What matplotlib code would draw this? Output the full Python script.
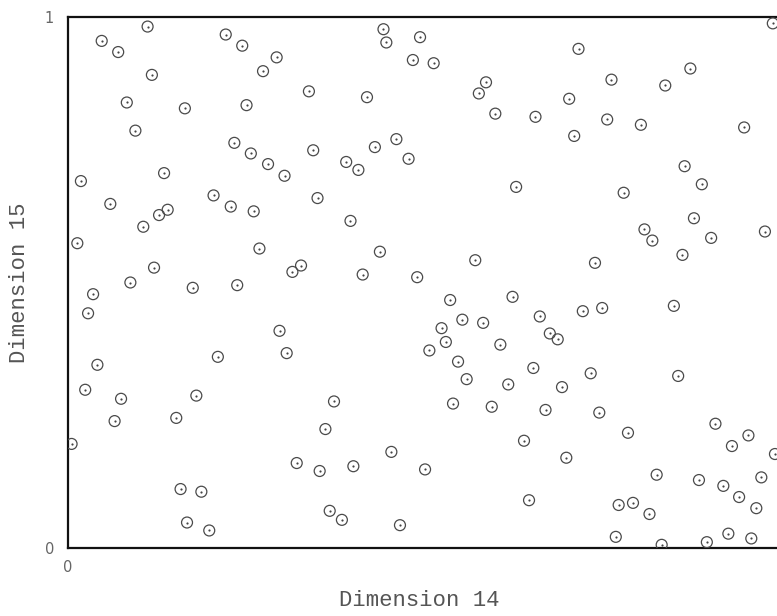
"""Scatter of two sample dimensions (14 vs 15), unit square."""

import matplotlib
matplotlib.use("Agg")
import matplotlib.pyplot as plt

# Dimension 14 values (x)
dim14 = [
    0.111, 0.047, 0.070, 0.220, 0.243, 0.291, 0.272, 0.117, 0.082, 0.163,
    0.249, 0.094, 0.232, 0.255, 0.279, 0.302, 0.134, 0.018, 0.203, 0.227,
    0.259, 0.059, 0.139, 0.127, 0.105, 0.013, 0.267, 0.313, 0.325, 0.120,
    0.087, 0.174, 0.236, 0.035, 0.440, 0.444, 0.491, 0.481, 0.510, 0.336,
    0.417, 0.583, 0.573, 0.596, 0.652, 0.458, 0.428, 0.475, 0.342, 0.388,
    0.405, 0.625, 0.348, 0.394, 0.435, 0.568, 0.411, 0.487, 0.983, 0.712,
    0.868, 0.758, 0.833, 0.699, 0.752, 0.799, 0.943, 0.706, 0.860, 0.884,
    0.775, 0.873, 0.804, 0.815, 0.897, 0.972, 0.857, 0.735, 0.028, 0.295,
    0.305, 0.209, 0.041, 0.024, 0.074, 0.179, 0.065, 0.151, 0.005, 0.319,
    0.157, 0.186, 0.166, 0.197, 0.533, 0.620, 0.658, 0.550, 0.579, 0.521,
    0.527, 0.504, 0.603, 0.544, 0.556, 0.614, 0.649, 0.537, 0.591, 0.371,
    0.359, 0.451, 0.351, 0.398, 0.498, 0.636, 0.643, 0.365, 0.382, 0.463,
    0.718, 0.745, 0.845, 0.672, 0.683, 0.729, 0.851, 0.689, 0.666, 0.741,
    0.781, 0.903, 0.949, 0.926, 0.986, 0.695, 0.821, 0.880, 0.914, 0.967,
    0.936, 0.960, 0.768, 0.788, 0.811, 0.764, 0.828, 0.891, 0.921, 0.953,
]

# Dimension 15 values (y)
dim15 = [
    0.982, 0.955, 0.934, 0.967, 0.946, 0.924, 0.898, 0.891, 0.839, 0.828,
    0.834, 0.786, 0.763, 0.743, 0.723, 0.701, 0.706, 0.691, 0.664, 0.643,
    0.634, 0.648, 0.637, 0.627, 0.605, 0.574, 0.564, 0.520, 0.532, 0.528,
    0.500, 0.490, 0.495, 0.478, 0.977, 0.952, 0.962, 0.919, 0.913, 0.860,
    0.849, 0.877, 0.856, 0.818, 0.812, 0.770, 0.755, 0.733, 0.749, 0.727,
    0.712, 0.680, 0.659, 0.616, 0.558, 0.542, 0.515, 0.510, 0.988, 0.940,
    0.903, 0.882, 0.871, 0.846, 0.807, 0.797, 0.792, 0.776, 0.719, 0.685,
    0.669, 0.621, 0.600, 0.579, 0.584, 0.596, 0.552, 0.537, 0.442, 0.409,
    0.367, 0.360, 0.345, 0.298, 0.281, 0.287, 0.239, 0.245, 0.196, 0.160,
    0.111, 0.106, 0.048, 0.033, 0.467, 0.473, 0.436, 0.430, 0.424, 0.414,
    0.388, 0.372, 0.383, 0.351, 0.318, 0.308, 0.339, 0.272, 0.266, 0.276,
    0.224, 0.181, 0.145, 0.154, 0.148, 0.202, 0.090, 0.070, 0.053, 0.043,
    0.446, 0.452, 0.456, 0.404, 0.393, 0.329, 0.324, 0.303, 0.260, 0.255,
    0.217, 0.234, 0.212, 0.192, 0.177, 0.170, 0.138, 0.128, 0.117, 0.133,
    0.096, 0.075, 0.081, 0.085, 0.064, 0.021, 0.006, 0.011, 0.027, 0.018,
]

x_label = "Dimension 14"
y_label = "Dimension 15"


def main():
    W, H = 777, 616
    fig = plt.figure(figsize=(W / 100, H / 100), dpi=100)
    # plot box runs past the right edge of the picture, as in the source
    ax = fig.add_axes([68 / W, (H - 548) / H, 717 / W, 531 / H])

    ax.scatter(dim14, dim15, s=62, facecolors="none", edgecolors="#4a4a4a",
               linewidths=0.9, zorder=3)
    ax.scatter(dim14, dim15, s=2.5, color="#444444", linewidths=0, zorder=4)

    ax.set_xlim(0, 1)
    ax.set_ylim(0, 1)
    for side in ["left", "bottom", "top", "right"]:
        ax.spines[side].set_linewidth(1.6)
        ax.spines[side].set_color("#111111")

    ax.set_xticks([0])
    ax.set_xticklabels(["0"])
    ax.set_yticks([0, 1])
    ax.set_yticklabels(["0", "1"])
    ax.tick_params(length=0, labelsize=10.5, labelcolor="#666666")
    ax.tick_params(axis="y", pad=10)
    ax.tick_params(axis="x", pad=9)

    fig.text(419 / W, 1 - 601 / H, x_label, ha="center", va="center",
             family="Liberation Mono", fontsize=16, color="#555555")
    fig.text(20 / W, 1 - 283 / H, y_label, ha="center", va="center",
             rotation=90, family="Liberation Mono", fontsize=16, color="#555555")

    fig.savefig("out.png", dpi=100)
    plt.close(fig)


if __name__ == "__main__":
    main()
